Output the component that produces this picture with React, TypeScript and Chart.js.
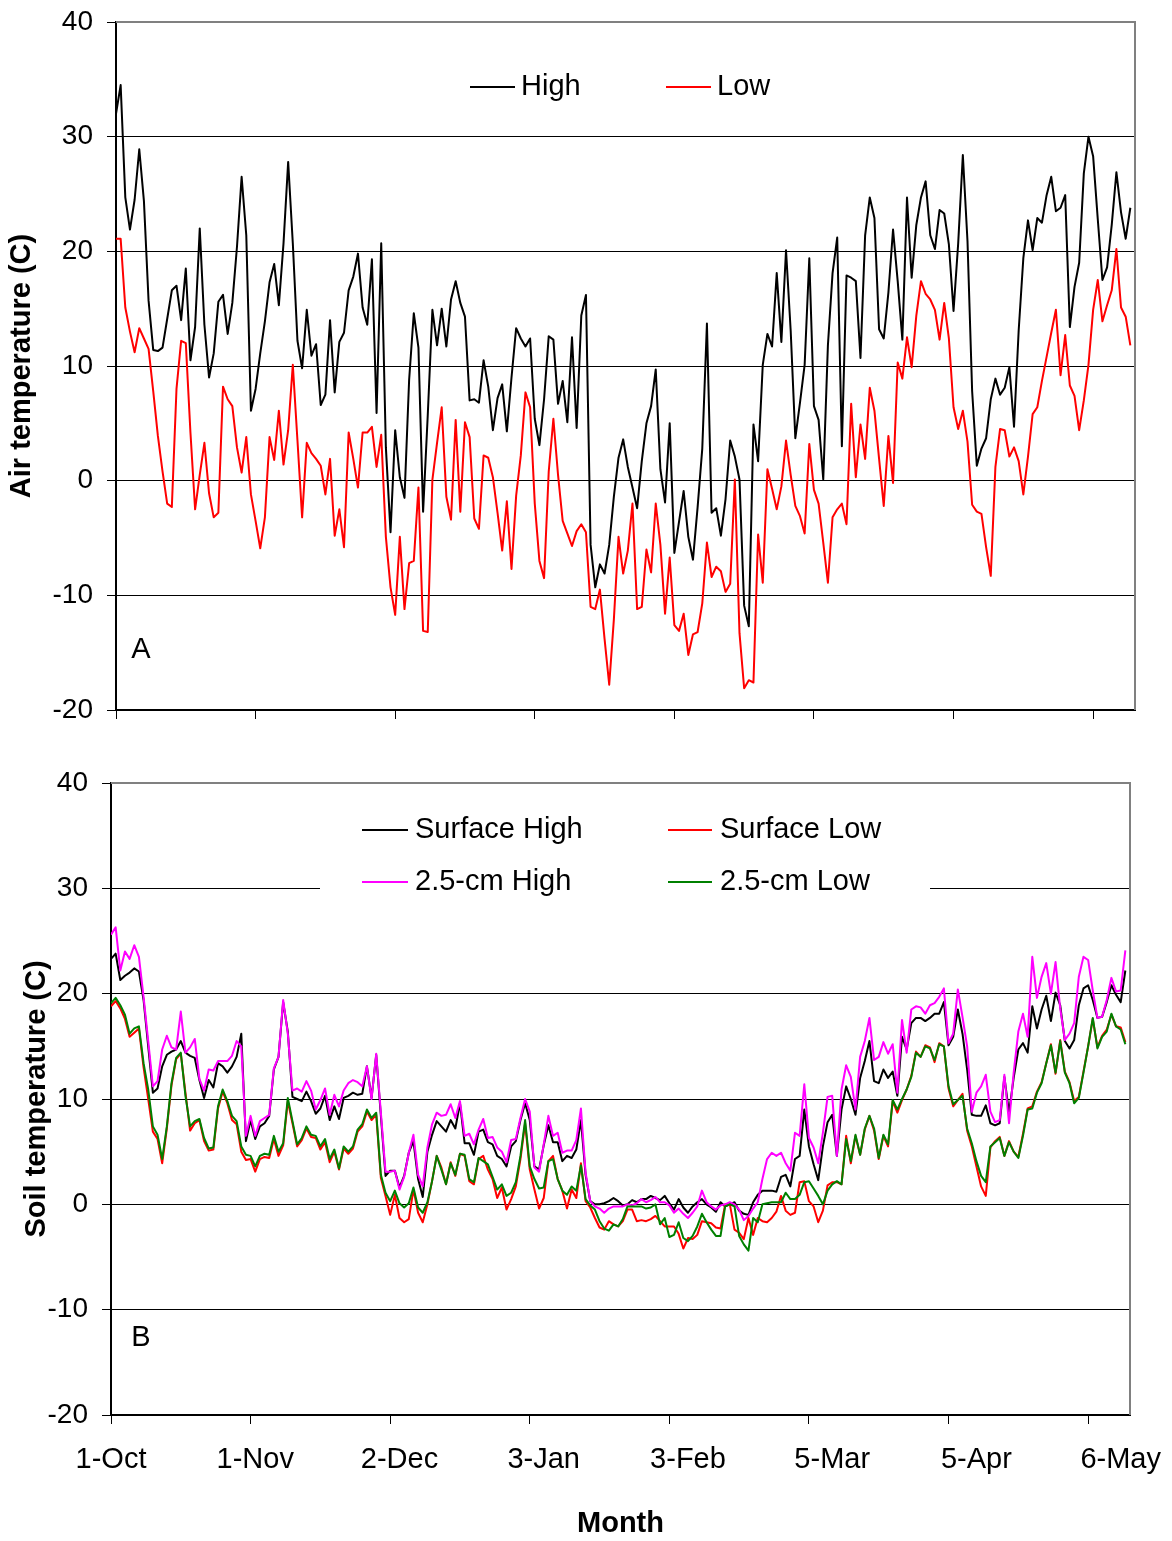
import React, { useEffect, useRef } from 'react';
import { Chart, registerables } from 'chart.js';

Chart.register(...registerables);

const FONT = "'Liberation Sans', Arial, sans-serif";

// ---- axis labels ----
const dateLabels = ['1-Oct', '1-Nov', '2-Dec', '3-Jan', '3-Feb', '5-Mar', '5-Apr', '6-May'];
const LABEL_EVERY = 31; // one date label every 31 days
const TICK_EVERY = 30; // one tick mark every 30 days
const yTickValues = [-20, -10, 0, 10, 20, 30, 40];

// ---- A: air temperature (C), daily ----
const airHigh = [
  32.0, 34.5, 24.7, 21.9, 24.5, 28.9, 24.4, 15.7, 11.4, 11.3, 11.6, 14.1, 16.6, 17.0, 14.0, 18.5, 10.5, 13.4, 22.0, 13.6,
  9.0, 11.1, 15.6, 16.2, 12.8, 15.5, 20.4, 26.5, 21.4, 6.1, 8.0, 11.1, 13.9, 17.3, 18.9, 15.3, 20.7, 27.8, 20.7, 12.2,
  9.8, 14.9, 10.9, 11.9, 6.6, 7.5, 14.0, 7.7, 12.1, 12.9, 16.6, 17.8, 19.8, 15.1, 13.6,
  19.3, 5.9, 20.7, 2.9, -4.5, 4.4, 0.3, -1.5, 8.8, 14.6, 11.6, -2.7, 5.7, 14.9, 11.8, 15.0, 11.7, 15.8, 17.4, 15.5,
  14.3, 7.0, 7.1, 6.8, 10.5, 8.2, 4.4, 7.2, 8.4, 4.3, 9.0, 13.3, 12.4, 11.7, 12.4, 5.4, 3.1, 7.1, 12.6, 12.3,
  6.7, 8.7, 5.1, 12.5, 4.6, 14.4, 16.2, -5.6, -9.3, -7.3, -8.1, -5.6, -1.4, 2.0,
  3.6, 1.2, -0.6, -2.4, 1.7, 5.0, 6.5, 9.7, 1.0, -1.9, 5.0, -6.3, -3.6, -0.9, -4.9, -6.9, -2.3, 2.8, 13.7, -2.8,
  -2.4, -4.8, -1.6, 3.5, 2.1, 0.1, -10.9, -12.7, 4.9, 1.7, 10.1, 12.8, 11.7, 18.1, 12.1, 20.1, 13.1, 3.7, 6.8, 10.1,
  19.4, 6.5, 5.3, 0.1, 11.8, 18.1, 21.2, 3.0, 17.9, 17.7, 17.4, 10.7, 21.4, 24.7, 22.9,
  13.2, 12.4, 16.4, 21.9, 17.4, 12.3, 24.7, 17.7, 22.3, 24.7, 26.1, 21.4, 20.2, 23.6, 23.3, 20.6, 14.8, 20.7, 28.4, 20.9,
  7.8, 1.3, 2.8, 3.7, 7.1, 8.9, 7.5, 8.1, 9.9, 4.7, 13.1, 19.4, 22.7, 20.1, 22.9, 22.5, 24.9, 26.5, 23.5, 23.8,
  24.9, 13.4, 16.9, 19.0, 26.8, 30.0, 28.3, 22.8, 17.5, 18.6, 22.3, 26.9, 23.4, 21.1, 23.8,
];

const airLow = [
  21.1, 21.1, 15.1, 13.0, 11.2, 13.3, 12.4, 11.5, 7.8, 3.9, 0.8, -2.0, -2.3, 8.0, 12.2, 12.0, 4.2, -2.5, 0.5, 3.3,
  -1.1, -3.2, -2.8, 8.2, 7.1, 6.5, 2.9, 0.7, 3.8, -1.2, -3.5, -5.9, -3.2, 3.8, 1.8, 6.1, 1.4, 4.4, 10.1, 3.5,
  -3.2, 3.3, 2.4, 1.9, 1.3, -1.2, 1.9, -4.8, -2.5, -5.8, 4.2, 1.9, -0.6, 4.2, 4.2,
  4.7, 1.2, 4.0, -4.9, -9.3, -11.7, -4.9, -11.2, -7.2, -7.0, -0.6, -13.1, -13.2, 0.1, 3.3, 6.4, -1.4, -3.4, 5.3, -2.7,
  5.1, 3.8, -3.3, -4.2, 2.2, 2.0, 0.3, -2.8, -6.1, -1.8, -7.7, -1.3, 2.2, 7.7, 6.4, -2.0, -7.0, -8.5, 0.8, 5.4,
  0.5, -3.5, -4.6, -5.7, -4.4, -3.8, -4.5, -11.0, -11.2, -9.5, -13.8, -17.8, -12.1, -4.9,
  -8.1, -6.1, -2.0, -11.2, -11.0, -6.0, -8.0, -2.0, -5.6, -11.6, -6.7, -12.6, -13.1, -11.6, -15.2, -13.4, -13.2, -10.7, -5.4, -8.4,
  -7.5, -7.9, -9.7, -9.0, 0.1, -13.3, -18.1, -17.4, -17.6, -4.7, -8.9, 1.0, -0.7, -2.5, -0.5, 3.5, 0.5, -2.2, -3.1, -4.6,
  3.2, -0.8, -2.0, -5.4, -8.9, -3.2, -2.5, -2.0, -3.8, 6.7, 0.3, 4.9, 1.9, 8.1, 6.1,
  1.9, -2.2, 3.9, -0.2, 10.3, 8.9, 12.5, 9.9, 14.4, 17.4, 16.3, 15.8, 14.9, 12.3, 15.5, 12.4, 6.4, 4.5, 6.1, 3.4,
  -2.1, -2.7, -2.9, -5.8, -8.3, 1.2, 4.5, 4.4, 2.1, 2.9, 1.7, -1.2, 2.1, 5.8, 6.4, 8.7, 10.8, 12.9, 14.9, 9.2,
  12.7, 8.3, 7.4, 4.4, 7.0, 10.1, 14.9, 17.5, 13.9, 15.3, 16.6, 20.2, 15.1, 14.3, 11.8,
];

// ---- B: soil temperature (C), daily ----
const surfaceHigh = [
  23.3, 23.8, 21.3, 21.7, 22.0, 22.4, 22.1, 19.4, 15.0, 10.6, 11.0, 13.1, 14.2, 14.5, 14.7, 15.5, 14.4, 14.1, 13.9, 11.8,
  10.1, 11.8, 11.1, 13.4, 13.1, 12.5, 13.1, 14.0, 16.2, 6.0, 8.0, 6.2, 7.4, 7.7, 8.4, 12.8, 14.0, 19.2, 16.4, 10.2,
  10.0, 9.8, 10.7, 9.8, 8.6, 9.1, 10.3, 8.0, 9.3, 8.1, 10.1, 10.3, 10.6, 10.4, 10.5,
  13.1, 10.1, 14.2, 8.4, 2.7, 3.2, 3.2, 1.6, 2.7, 4.9, 6.0, 2.4, 0.7, 5.0, 6.6, 7.9, 7.4, 6.9, 8.0, 7.2,
  9.6, 5.8, 5.8, 4.7, 6.9, 7.1, 5.9, 5.7, 4.6, 4.3, 3.6, 5.5, 6.0, 8.0, 9.6, 8.0, 3.6, 3.3, 5.6, 7.5,
  5.9, 5.9, 4.1, 4.6, 4.4, 5.2, 8.0, 2.8, 0.3, 0.0, 0.0, 0.1, 0.3, 0.6,
  0.3, -0.1, 0.0, 0.4, 0.2, 0.5, 0.5, 0.8, 0.6, 0.4, 0.8, 0.1, -0.5, 0.5, -0.3, -0.8, -0.2, 0.2, 0.5, 0.0,
  -0.3, -0.7, 0.2, -0.2, 0.0, 0.2, -0.6, -0.9, -1.0, 0.2, 0.9, 1.3, 1.3, 1.3, 1.2, 2.6, 2.8, 1.7, 4.3, 4.6,
  9.0, 5.5, 3.8, 2.3, 5.5, 7.8, 8.5, 4.6, 9.0, 11.2, 10.0, 8.5, 12.0, 13.6, 15.5,
  11.7, 11.5, 12.8, 12.0, 12.6, 10.3, 15.9, 14.7, 17.2, 17.7, 17.7, 17.4, 17.7, 18.1, 18.1, 19.2, 15.1, 15.9, 18.5, 16.2,
  12.8, 8.5, 8.4, 8.4, 9.4, 7.7, 7.5, 7.7, 12.1, 8.7, 12.0, 14.7, 15.3, 14.4, 18.8, 16.7, 18.5, 19.8, 17.4, 20.1,
  18.9, 15.5, 14.8, 15.6, 18.9, 20.5, 20.8, 19.4, 17.7, 17.8, 19.2, 20.8, 19.9, 19.2, 22.2,
];

const surfaceLow = [
  18.8, 19.3, 18.6, 17.6, 15.9, 16.3, 16.7, 13.0, 10.0, 6.9, 6.2, 3.9, 7.2, 11.3, 13.8, 14.3, 10.6, 7.0, 7.7, 8.0,
  6.0, 5.1, 5.2, 9.1, 10.7, 9.6, 8.0, 7.6, 5.0, 4.2, 4.3, 3.1, 4.3, 4.5, 4.4, 6.2, 4.6, 5.6, 9.8, 7.7,
  5.5, 6.1, 7.2, 6.4, 6.3, 5.2, 5.9, 4.0, 5.0, 3.3, 5.3, 4.8, 5.3, 6.9, 7.4,
  8.8, 8.0, 8.5, 2.5, 0.8, -1.0, 0.9, -1.3, -1.7, -1.4, 1.4, -0.8, -1.7, 0.0, 2.2, 4.6, 3.5, 1.9, 4.0, 2.7,
  4.8, 4.6, 2.2, 1.9, 4.3, 4.6, 3.3, 2.4, 0.6, 1.6, -0.5, 0.5, 1.7, 4.3, 7.7, 3.3, 1.4, -0.4, 0.6, 4.1,
  4.6, 2.4, 1.3, -0.4, 1.4, 0.6, 3.9, 0.3, -0.3, -1.3, -2.2, -2.4, -1.6, -1.9,
  -2.1, -1.6, -0.5, -0.5, -1.6, -1.5, -1.6, -1.4, -1.1, -1.6, -2.1, -2.1, -2.1, -2.8, -4.2, -3.2, -3.3, -2.9, -1.6, -1.7,
  -1.8, -2.2, -2.3, 0.0, 0.0, -2.4, -2.7, -3.3, -1.3, -2.9, -1.3, -1.6, -1.7, -1.3, -0.7, 0.8, -0.6, -1.0, -0.8, 2.1,
  2.2, 0.3, -0.2, -1.7, -0.6, 1.8, 2.1, 2.1, 1.9, 6.5, 3.9, 6.5, 4.7, 7.1, 8.4,
  7.0, 4.3, 6.5, 5.5, 9.8, 8.7, 9.9, 10.9, 12.2, 14.5, 14.0, 15.1, 14.9, 13.5, 15.3, 15.0, 11.0, 9.3, 9.9, 10.5,
  7.0, 5.5, 3.6, 1.7, 0.8, 5.4, 6.0, 6.4, 4.6, 6.0, 5.0, 4.5, 6.7, 9.1, 9.3, 10.7, 11.6, 13.4, 15.2, 12.4,
  15.6, 12.6, 11.6, 9.8, 10.2, 12.6, 15.0, 17.6, 14.9, 16.0, 16.6, 18.0, 16.9, 16.8, 15.4,
];

const cmHigh = [
  25.6, 26.3, 22.2, 24.0, 23.3, 24.6, 23.5, 19.7, 15.5, 11.2, 11.7, 14.7, 16.0, 14.9, 14.7, 18.3, 14.4, 14.9, 15.7, 11.9,
  10.8, 12.8, 12.7, 13.6, 13.6, 13.6, 14.1, 15.5, 15.0, 6.5, 8.4, 6.5, 7.9, 8.2, 8.5, 12.9, 14.0, 19.4, 16.2, 10.8,
  11.0, 10.7, 11.7, 10.8, 9.0, 9.9, 11.0, 8.5, 10.4, 9.3, 10.8, 11.5, 11.8, 11.6, 11.2,
  13.1, 10.0, 14.3, 8.7, 3.1, 3.1, 3.2, 1.4, 2.6, 4.9, 6.6, 2.8, 1.7, 5.4, 7.6, 8.7, 8.4, 8.5, 9.5, 8.2,
  9.8, 6.5, 6.7, 5.7, 7.1, 8.1, 6.3, 6.4, 5.4, 5.0, 4.0, 6.1, 6.2, 8.2, 10.0, 8.8, 3.5, 3.1, 5.7, 8.4,
  6.5, 6.8, 4.9, 5.1, 5.1, 6.1, 9.1, 3.0, 0.3, -0.2, -0.4, -0.8, -0.4, -0.2,
  -0.2, -0.2, 0.0, -0.1, 0.1, 0.5, 0.2, 0.4, 0.7, 0.2, 0.2, -0.1, -0.8, -0.4, -0.9, -1.3, -0.8, -0.2, 1.3, 0.2,
  -0.2, -0.5, -0.1, 0.0, 0.2, 0.0, -0.5, -1.5, -1.1, -0.4, 0.2, 2.4, 4.3, 4.9, 4.6, 4.9, 3.9, 3.2, 6.8, 6.5,
  11.4, 6.3, 5.4, 3.9, 6.8, 10.2, 10.3, 4.6, 10.9, 13.2, 12.1, 9.0, 14.0, 15.5, 17.7,
  13.7, 14.0, 15.4, 14.3, 15.2, 10.6, 17.5, 14.4, 18.5, 18.8, 18.7, 18.1, 18.9, 19.1, 19.7, 20.5, 15.3, 16.2, 20.4, 17.8,
  15.0, 8.8, 10.6, 11.2, 12.3, 8.8, 7.8, 8.0, 12.3, 7.7, 12.5, 16.4, 18.1, 15.9, 23.5, 19.6, 21.6, 22.9, 20.0, 23.0,
  18.6, 15.6, 16.2, 17.2, 21.6, 23.5, 23.2, 20.3, 17.7, 17.8, 19.4, 21.5, 20.2, 20.3, 24.1,
];

const cmLow = [
  19.1, 19.6, 18.9, 18.0, 16.2, 16.7, 16.9, 13.4, 10.9, 7.4, 6.6, 4.3, 7.4, 11.5, 13.9, 14.4, 10.3, 7.4, 7.9, 8.1,
  6.3, 5.3, 5.4, 9.3, 10.9, 9.8, 8.4, 7.9, 5.5, 4.7, 4.6, 3.6, 4.6, 4.8, 4.7, 6.5, 5.0, 5.8, 10.1, 7.9,
  5.7, 6.3, 7.4, 6.6, 6.5, 5.5, 6.2, 4.3, 5.2, 3.4, 5.5, 5.0, 5.5, 7.1, 7.6,
  9.0, 8.2, 8.7, 2.8, 1.1, 0.3, 1.3, 0.1, -0.3, 0.1, 1.6, -0.3, -0.8, 0.2, 2.2, 4.6, 3.3, 1.9, 3.9, 2.8,
  4.8, 4.7, 2.4, 2.1, 4.4, 4.1, 3.8, 2.6, 1.4, 1.9, 0.8, 1.1, 2.1, 4.6, 8.0, 3.6, 2.4, 1.5, 1.6, 4.1,
  4.3, 2.4, 1.3, 0.9, 1.7, 1.3, 3.7, 0.5, -0.1, -0.5, -1.6, -2.3, -2.5, -1.9,
  -2.1, -1.4, -0.2, -0.2, -0.2, -0.2, -0.4, -0.3, 0.0, -1.9, -1.3, -3.1, -2.9, -1.7, -3.2, -3.5, -3.0, -2.1, -0.9, -1.7,
  -2.4, -3.0, -3.0, -0.2, 0.0, -0.2, -3.0, -3.8, -4.4, -1.3, -1.7, 0.0, 0.1, 0.2, 0.2, 0.2, 1.1, 0.5, 0.5, 0.9,
  2.1, 2.2, 1.5, 0.8, 0.0, 1.3, 1.9, 2.2, 1.9, 6.2, 4.1, 6.6, 4.7, 7.2, 8.4,
  7.2, 4.4, 6.6, 5.7, 9.9, 9.0, 10.0, 10.9, 12.1, 14.4, 14.0, 15.0, 14.8, 13.7, 15.2, 15.0, 11.2, 9.5, 9.9, 10.3,
  7.2, 5.8, 4.1, 2.7, 2.1, 5.5, 5.9, 6.3, 4.6, 5.9, 5.0, 4.4, 6.5, 9.0, 9.1, 10.6, 11.5, 13.4, 15.1, 12.5,
  15.5, 12.5, 11.5, 9.6, 10.1, 12.5, 15.0, 17.7, 14.8, 15.9, 16.4, 18.1, 16.9, 16.6, 15.2,
];

// ---- derived helpers ----
const X_MAX = airHigh.length; // axis runs a little past the last day
const tickMarkValues: number[] = [];
for (let v = 0; v < X_MAX; v += TICK_EVERY) tickMarkValues.push(v);
const labelValues = dateLabels.map((_, k) => k * LABEL_EVERY);
const bottomTickValues = Array.from(new Set([...tickMarkValues, ...labelValues])).sort((a, b) => a - b);

const toPoints = (arr: number[]) => arr.map((v, i) => ({ x: i, y: v }));

const TEXT_SIZE = 29;

function yAxis(title: string, width: number, titlePad: number) {
  return {
    type: 'linear',
    min: -20,
    max: 40,
    afterBuildTicks: (s: any) => {
      s.ticks = yTickValues.map((v) => ({ value: v }));
    },
    ticks: {
      color: '#000',
      font: { family: FONT, size: 28 },
      padding: 14,
      callback: (v: any) => String(v),
    },
    grid: { color: '#000', lineWidth: 1, tickLength: 9, drawTicks: true },
    border: { display: true, color: '#000', width: 2 },
    title: {
      display: true,
      text: title,
      color: '#000',
      font: { family: FONT, size: TEXT_SIZE, weight: 'bold' },
      padding: { top: titlePad, bottom: 0 },
    },
    afterFit: (s: any) => {
      s.width = width;
      s.paddingTop = 0;
      s.paddingBottom = 0;
    },
  };
}

function lineDs(label: string, data: number[], color: string, order: number) {
  return {
    label,
    data: toPoints(data),
    borderColor: color,
    backgroundColor: color,
    borderWidth: 2,
    pointRadius: 0,
    pointHoverRadius: 0,
    tension: 0,
    fill: false,
    borderJoinStyle: 'round',
    order,
  };
}

function drawFrame(chart: any) {
  const { ctx, chartArea } = chart;
  ctx.save();
  ctx.strokeStyle = '#808080';
  ctx.lineWidth = 2;
  ctx.beginPath();
  ctx.moveTo(chartArea.left, chartArea.top);
  ctx.lineTo(chartArea.right, chartArea.top);
  ctx.lineTo(chartArea.right, chartArea.bottom);
  ctx.stroke();
  ctx.restore();
}

function legendItem(ctx: CanvasRenderingContext2D, x1: number, x2: number, tx: number, y: number, color: string, text: string) {
  ctx.save();
  ctx.strokeStyle = color;
  ctx.lineWidth = 2;
  ctx.beginPath();
  ctx.moveTo(x1, y);
  ctx.lineTo(x2, y);
  ctx.stroke();
  ctx.fillStyle = '#000';
  ctx.font = `${TEXT_SIZE}px ${FONT}`;
  ctx.textAlign = 'left';
  ctx.textBaseline = 'middle';
  ctx.fillText(text, tx, y);
  ctx.restore();
}

function panelLetter(ctx: CanvasRenderingContext2D, letter: string, x: number, y: number) {
  ctx.save();
  ctx.fillStyle = '#000';
  ctx.font = `${TEXT_SIZE}px ${FONT}`;
  ctx.textAlign = 'center';
  ctx.textBaseline = 'middle';
  ctx.fillText(letter, x, y);
  ctx.restore();
}

const TOP_H = 745;
const BOTTOM_H = 1541 - TOP_H;

function AirChart() {
  const ref = useRef<HTMLCanvasElement>(null);
  useEffect(() => {
    if (!ref.current) return;
    const decor = {
      id: 'airDecor',
      beforeDatasetsDraw(chart: any) {
        drawFrame(chart);
        const ctx = chart.ctx;
        legendItem(ctx, 470, 515, 521, 87, '#000000', 'High');
        legendItem(ctx, 666, 711, 717, 87, '#FF0000', 'Low');
        panelLetter(ctx, 'A', 141, 650);
      },
    };
    const chart = new Chart(ref.current, {
      type: 'line',
      data: {
        datasets: [lineDs('High', airHigh, '#000000', 2), lineDs('Low', airLow, '#FF0000', 1)] as any,
      },
      options: {
        responsive: false,
        animation: false,
        devicePixelRatio: 1,
        layout: { padding: { left: 0, top: 22, right: 37, bottom: 0 } },
        plugins: { legend: { display: false }, tooltip: { enabled: false } },
        scales: {
          x: {
            type: 'linear',
            min: 0,
            max: X_MAX,
            afterBuildTicks: (s: any) => {
              s.ticks = tickMarkValues.map((v) => ({ value: v }));
            },
            ticks: { display: false },
            grid: { drawOnChartArea: false, drawTicks: true, tickLength: 9, color: '#000', lineWidth: 1 },
            border: { display: true, color: '#000', width: 2 },
            afterFit: (s: any) => {
              s.height = TOP_H - 710;
              s.paddingLeft = 0;
              s.paddingRight = 0;
            },
          },
          y: yAxis('Air temperature (C)', 116, 5),
        } as any,
      },
      plugins: [decor],
    } as any);
    return () => chart.destroy();
  }, []);
  return <canvas ref={ref} width={1172} height={TOP_H} style={{ display: 'block' }} />;
}

function SoilChart() {
  const ref = useRef<HTMLCanvasElement>(null);
  useEffect(() => {
    if (!ref.current) return;
    const decor = {
      id: 'soilDecor',
      beforeDatasetsDraw(chart: any) {
        drawFrame(chart);
        const ctx = chart.ctx;
        ctx.save();
        ctx.fillStyle = '#ffffff';
        ctx.fillRect(320, 60, 610, 100);
        ctx.restore();
        legendItem(ctx, 362, 408, 415, 85, '#000000', 'Surface High');
        legendItem(ctx, 668, 712, 720, 85, '#FF0000', 'Surface Low');
        legendItem(ctx, 362, 408, 415, 137, '#FF00FF', '2.5-cm High');
        legendItem(ctx, 668, 712, 720, 137, '#008000', '2.5-cm Low');
        panelLetter(ctx, 'B', 141, 593);
      },
    };
    const chart = new Chart(ref.current, {
      type: 'line',
      data: {
        datasets: [
          lineDs('Surface High', surfaceHigh, '#000000', 4),
          lineDs('Surface Low', surfaceLow, '#FF0000', 3),
          lineDs('2.5-cm High', cmHigh, '#FF00FF', 2),
          lineDs('2.5-cm Low', cmLow, '#008000', 1),
        ] as any,
      },
      options: {
        responsive: false,
        animation: false,
        devicePixelRatio: 1,
        layout: { padding: { left: 0, top: 38, right: 42, bottom: 0 } },
        plugins: { legend: { display: false }, tooltip: { enabled: false } },
        scales: {
          x: {
            type: 'linear',
            min: 0,
            max: X_MAX,
            afterBuildTicks: (s: any) => {
              s.ticks = bottomTickValues.map((v) => ({ value: v }));
            },
            ticks: {
              display: true,
              autoSkip: false,
              maxRotation: 0,
              minRotation: 0,
              color: '#000',
              font: { family: FONT, size: TEXT_SIZE },
              padding: 19,
              callback: (v: any) => {
                const n = Math.round(Number(v));
                return n % LABEL_EVERY === 0 && n / LABEL_EVERY < dateLabels.length ? dateLabels[n / LABEL_EVERY] : '';
              },
            },
            grid: {
              drawOnChartArea: false,
              drawTicks: true,
              tickLength: 9,
              lineWidth: 1,
              color: '#000',
              tickColor: (c: any) =>
                c.tick && Math.round(c.tick.value) % TICK_EVERY === 0 ? '#000000' : 'rgba(0,0,0,0)',
            },
            border: { display: true, color: '#000', width: 2 },
            title: {
              display: true,
              text: 'Month',
              color: '#000',
              font: { family: FONT, size: TEXT_SIZE, weight: 'bold' },
              padding: { top: 0, bottom: 0 },
            },
            afterFit: (s: any) => {
              s.height = BOTTOM_H - 670;
              s.paddingLeft = 0;
              s.paddingRight = 0;
            },
          },
          y: yAxis('Soil temperature (C)', 111, 20),
        } as any,
      },
      plugins: [decor],
    } as any);
    return () => chart.destroy();
  }, []);
  return <canvas ref={ref} width={1172} height={BOTTOM_H} style={{ display: 'block' }} />;
}

export default function App() {
  return (
    <div
      style={{
        position: 'absolute',
        left: 0,
        top: 0,
        width: 1172,
        height: 1541,
        background: '#ffffff',
        overflow: 'hidden',
      }}
    >
      <AirChart />
      <SoilChart />
    </div>
  );
}
